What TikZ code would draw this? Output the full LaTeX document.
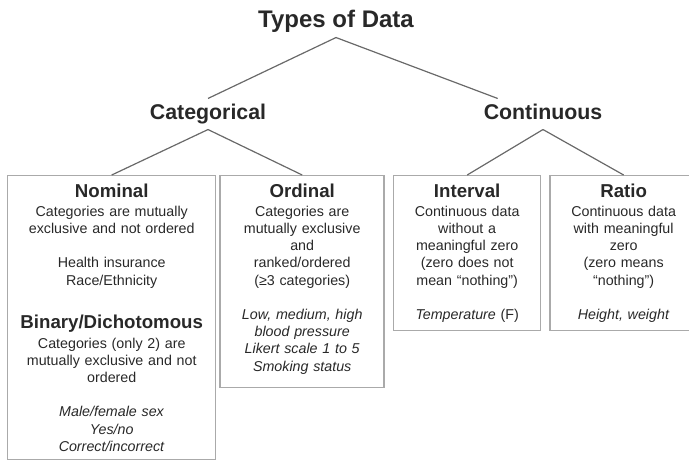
\documentclass[tikz,border=0pt]{standalone}
\usepackage{fontspec}
\setmainfont{Liberation Sans}
\usetikzlibrary{positioning}
\definecolor{boxGray}{RGB}{170,170,170}
\definecolor{lineGray}{RGB}{105,105,105}
\definecolor{txtGray}{RGB}{40,40,40}
\newcommand\typehead{\fontsize{14}{16}\selectfont\bfseries}
\newcommand\typebody{\fontsize{10.7}{12.9}\selectfont}

\begin{document}
\begin{tikzpicture}[x=0.75pt,y=-0.75pt,
  lbl/.style={text=txtGray,inner sep=3.7pt,text height=12pt,text depth=3.5pt},
  box/.style={draw=boxGray,line width=1.1pt,align=center,anchor=north west,inner xsep=2pt,inner ysep=6pt,text=txtGray,font=\typebody},
  ln/.style={lineGray,line width=0.9pt}]
  \useasboundingbox (0,0) rectangle (689,461);
  \node[lbl,font=\fontsize{18}{20}\selectfont\bfseries] (types) at (336,22) {Types of Data};
  \node[lbl,font=\fontsize{16}{18}\selectfont\bfseries] (cat) at (208,114) {Categorical};
  \node[lbl,font=\fontsize{16}{18}\selectfont\bfseries] (cont) at (543,114) {Continuous};
  \node[box,text width=152pt] (nom) at (7,175) {{\typehead Nominal}\\[1.4pt]
    Categories are mutually\\
    exclusive and not ordered\\[12.9pt]
    Health insurance\\
    Race/Ethnicity\\[19.4pt]
    {\typehead Binary/Dichotomous}\\[2pt]
    Categories (only 2) are\\
    mutually exclusive and not\\
    ordered\\[12.9pt]
    \textit{Male/female sex}\\
    \textit{Yes/no}\\
    \textit{Correct/incorrect}};
  \node[box,text width=119pt,right=2.25pt of nom.north east,anchor=north west] (ord) {{\typehead Ordinal}\\[1.4pt]
    Categories are\\
    mutually exclusive\\
    and\\
    ranked/ordered\\
    (≥3 categories)\\[12.9pt]
    \textit{Low, medium, high}\\
    \textit{blood pressure}\\
    \textit{Likert scale 1 to 5}\\
    \textit{Smoking status}\rule[-6.4pt]{0pt}{6.4pt}};
  \node[box,text width=106.25pt,right=6pt of ord.north east,anchor=north west] (intv) {{\typehead Interval}\\[1.4pt]
    Continuous data\\
    without a\\
    meaningful zero\\
    (zero does not\\
    mean “nothing”)\\[12.9pt]
    \textit{Temperature} (F)};
  \node[box,text width=106.25pt,right=6pt of intv.north east,anchor=north west] (rat) {{\typehead Ratio}\\[1.4pt]
    Continuous data\\
    with meaningful\\
    zero\\
    (zero means\\
    “nothing”)\\[12.9pt]
    \textit{Height, weight}};
  \draw[ln] (types.south)--(cat.north);
  \draw[ln] (types.south)--([xshift=-34pt]cont.north);
  \foreach \u/\w in {cat/nom,cat/ord,cont/intv,cont/rat} \draw[ln] (\u.south)--(\w.north);
\end{tikzpicture}
\end{document}
